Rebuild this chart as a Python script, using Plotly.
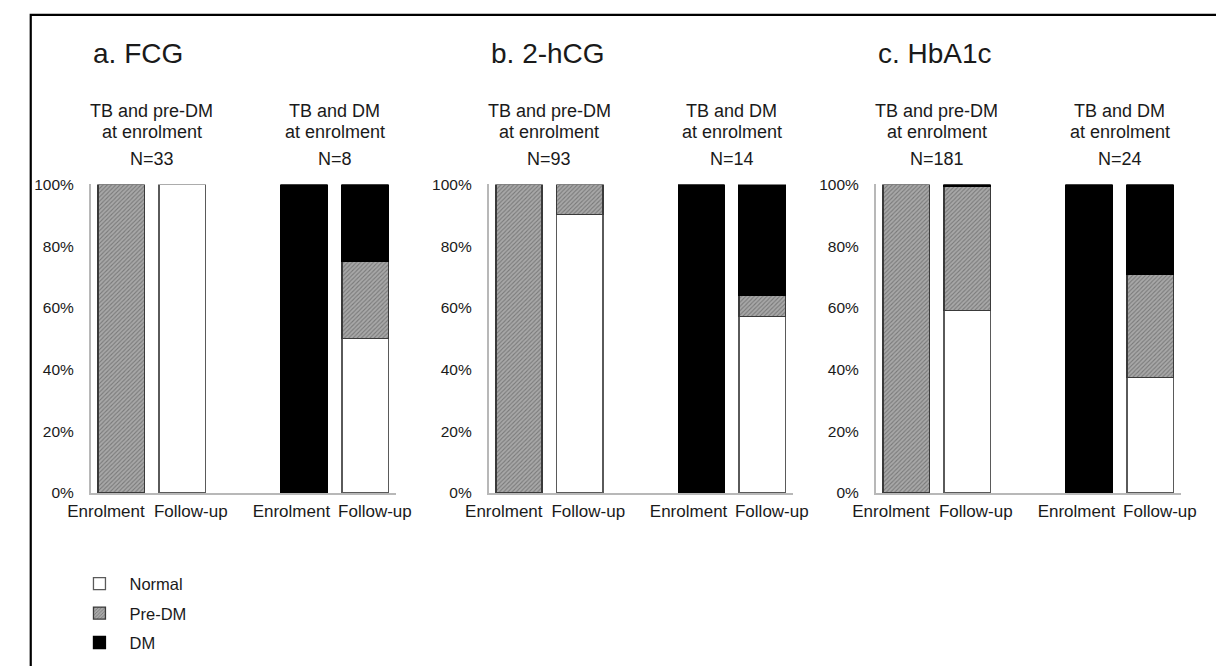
import plotly.graph_objects as go

# ---------------- data ----------------
panel_titles = ["a. FCG", "b. 2-hCG", "c. HbA1c"]
group_line1 = ["TB and pre-DM", "TB and DM"]
group_line2 = ["at enrolment", "at enrolment"]
group_n = [["N=33", "N=8"], ["N=93", "N=14"], ["N=181", "N=24"]]
stage_labels = ["Enrolment", "Follow-up", "Enrolment", "Follow-up"]
series_names = ["Normal", "Pre-DM", "DM"]

# percentages per bar: [pre-DM group enrolment, follow-up, DM group enrolment, follow-up]
fcg_normal = [0, 100, 0, 50]
fcg_predm = [100, 0, 0, 25]
fcg_dm = [0, 0, 100, 25]

hcg_normal = [0, 90.3, 0, 57.1]
hcg_predm = [100, 9.7, 0, 7.1]
hcg_dm = [0, 0, 100, 35.7]

hba_normal = [0, 59.1, 0, 37.5]
hba_predm = [100, 40.3, 0, 33.3]
hba_dm = [0, 0.6, 100, 29.2]

panels = [
    [fcg_normal, fcg_predm, fcg_dm],
    [hcg_normal, hcg_predm, hcg_dm],
    [hba_normal, hba_predm, hba_dm],
]

# ---------------- layout helpers ----------------
W, H = 1216, 666
FONT = "Liberation Sans, Arial, sans-serif"
TXT = "#1a1a1a"
bar_pos = [0, 1, 3, 4]          # category slots, slot 2 is the gap between groups
label_pos = [-0.25, 1.14, 2.79, 4.16]   # where the stage labels sit under the bars
pair_centers = [0.5, 3.5]
x_px = [(70, 385), (481, 795), (881, 1196)]
y_dom = [1 - 496.7 / H, 1 - 180 / H]

styles = [
    dict(color="white", line=dict(color="#5a5a5a", width=1.3)),
    dict(color="#9a9a9a", line=dict(color="#3a3a3a", width=1.3),
         pattern=dict(shape="/", fgcolor="#4a4a4a", bgcolor="#a8a8a8", size=3, solidity=0.35)),
    dict(color="black", line=dict(color="black", width=1.3)),
]

fig = go.Figure()

annotations = []
for p, series in enumerate(panels):
    xa = "x" if p == 0 else f"x{p+1}"
    ya = "y" if p == 0 else f"y{p+1}"
    for s, vals in enumerate(series):
        yvals = [v if v > 0 else None for v in vals]
        fig.add_trace(go.Bar(
            x=bar_pos, y=yvals, name=series_names[s],
            marker=styles[s], width=0.76,
            xaxis=xa, yaxis=ya,
            legendgroup=series_names[s], showlegend=(p == 0),
            hoverinfo="skip",
        ))
    dom = [x_px[p][0] / W, x_px[p][1] / W]
    fig.layout[("xaxis" if p == 0 else f"xaxis{p+1}")] = dict(
        domain=dom, range=[-0.5, 4.5], anchor=ya,
        tickmode="array", tickvals=label_pos, ticktext=stage_labels, tickangle=0,
        showline=True, linecolor="#b8b8b8", linewidth=1.5,
        showgrid=False, zeroline=False, ticks="", ticklabelstandoff=2,
        tickfont=dict(family=FONT, size=17, color=TXT), fixedrange=True,
    )
    fig.layout[("yaxis" if p == 0 else f"yaxis{p+1}")] = dict(
        domain=y_dom, range=[0, 100], anchor=xa,
        tickmode="linear", tick0=0, dtick=20, ticksuffix="%",
        showline=True, linecolor="#b8b8b8", linewidth=1.5,
        showgrid=False, zeroline=False, ticks="", ticklabelstandoff=12,
        tickfont=dict(family=FONT, size=15.5, color=TXT), fixedrange=True,
    )
    # panel title
    annotations.append(dict(
        text=panel_titles[p], xref=f"{xa} domain", yref="paper",
        x=0, y=1 - 46 / H, xanchor="left", yanchor="middle",
        showarrow=False, font=dict(family=FONT, size=28, color=TXT),
    ))
    # group headers
    for g in range(2):
        for txt, ypx in [(group_line1[g], 105), (group_line2[g], 126), (group_n[p][g], 154)]:
            annotations.append(dict(
                text=txt, xref=xa, yref="paper", x=pair_centers[g], y=1 - ypx / H,
                xanchor="center", yanchor="middle", showarrow=False,
                font=dict(family=FONT, size=18, color=TXT),
            ))

fig.update_layout(
    width=W, height=H, barmode="stack",
    margin=dict(l=0, r=0, t=0, b=0),
    paper_bgcolor="white", plot_bgcolor="white",
    annotations=annotations,
    legend=dict(
        x=48 / W, y=1 - 572 / H, xanchor="left", yanchor="top",
        font=dict(family=FONT, size=16.5, color=TXT),
        traceorder="grouped", bgcolor="rgba(0,0,0,0)", tracegroupgap=5,
        itemwidth=50,
    ),
    shapes=[dict(
        type="rect", xref="paper", yref="paper",
        x0=8 / W, x1=1.02, y0=-0.02, y1=1 - 6 / H,
        line=dict(color="black", width=2.2), fillcolor="rgba(0,0,0,0)",
    )],
)

fig.write_html(
    "out.html",
    config={"displayModeBar": False},
    post_script="document.body.style.margin='0';document.body.style.overflow='hidden';",
)
